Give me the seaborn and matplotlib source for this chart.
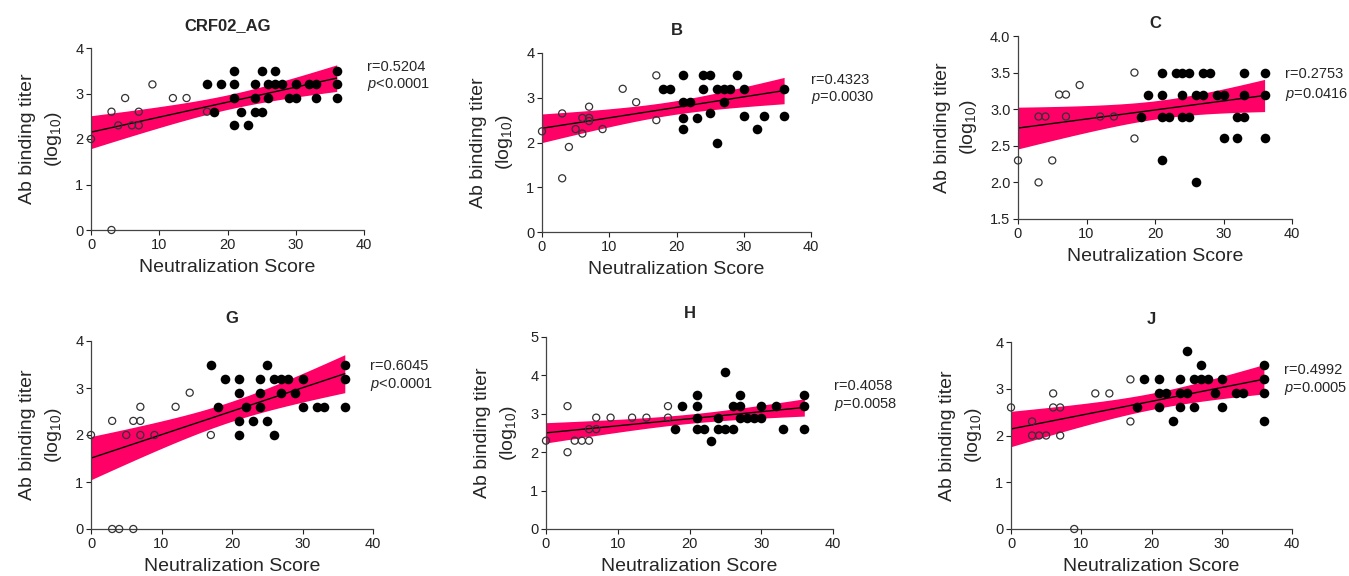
import numpy as np
import pandas as pd
import matplotlib
matplotlib.use("Agg")
import matplotlib.pyplot as plt
import seaborn as sns

# --- data (neutralization score vs log10 binding titer) ---
panel_names = ["CRF02_AG", "B", "C", "G", "H", "J"]
r_labels = ["r=0.5204", "r=0.4323", "r=0.2753", "r=0.6045", "r=0.4058", "r=0.4992"]
p_signs = ["<", "=", "=", "<", "=", "="]
p_values = ["0.0001", "0.0030", "0.0416", "0.0001", "0.0058", "0.0005"]

crf_x_open = [0, 3, 3, 4, 5, 6, 7, 7, 9, 12, 14, 17]
crf_y_open = [2.0, 2.6, 0.0, 2.3, 2.9, 2.3, 2.6, 2.3, 3.2, 2.9, 2.9, 2.6]
crf_x_fill = [17, 18, 19, 21, 21, 21, 21, 22, 23, 24, 24, 24, 25, 25, 26, 26,
              27, 27, 28, 29, 30, 30, 32, 33, 33, 36, 36, 36]
crf_y_fill = [3.2, 2.6, 3.2, 3.5, 3.2, 2.9, 2.3, 2.6, 2.3, 3.2, 2.9, 2.6, 3.5, 2.6, 3.2, 2.9,
              3.5, 3.2, 3.2, 2.9, 3.2, 2.9, 3.2, 3.2, 2.9, 3.5, 3.2, 2.9]

b_x_open = [0, 3, 3, 4, 5, 6, 6, 7, 7, 7, 9, 12, 14, 17, 17]
b_y_open = [2.25, 2.65, 1.2, 1.9, 2.3, 2.55, 2.2, 2.8, 2.55, 2.48, 2.3, 3.2, 2.9, 3.5, 2.5]
b_x_fill = [18, 19, 21, 21, 21, 21, 22, 23, 24, 24, 25, 25, 26, 26, 27, 27,
            28, 29, 30, 30, 32, 33, 36, 36]
b_y_fill = [3.2, 3.2, 3.5, 2.9, 2.55, 2.3, 2.9, 2.55, 3.5, 3.2, 3.5, 2.65, 3.2, 2.0, 3.2, 2.9,
            3.2, 3.5, 3.2, 2.6, 2.3, 2.6, 3.2, 2.6]

c_x_open = [0, 3, 3, 4, 5, 6, 7, 7, 9, 12, 14, 17, 17]
c_y_open = [2.3, 2.9, 2.0, 2.9, 2.3, 3.2, 3.2, 2.9, 3.33, 2.9, 2.9, 3.5, 2.6]
c_x_fill = [18, 19, 21, 21, 21, 21, 22, 23, 24, 24, 24, 25, 25, 26, 26, 27, 27,
            28, 29, 30, 30, 32, 32, 33, 33, 33, 36, 36, 36]
c_y_fill = [2.9, 3.2, 3.5, 3.2, 2.9, 2.3, 2.9, 3.5, 3.5, 3.2, 2.9, 3.5, 2.9, 3.2, 2.0, 3.5, 3.2,
            3.5, 3.2, 3.2, 2.6, 2.9, 2.6, 3.5, 3.2, 2.9, 3.5, 3.2, 2.6]

g_x_open = [0, 3, 3, 4, 5, 6, 6, 7, 7, 7, 9, 12, 14, 17]
g_y_open = [2.0, 2.3, 0.0, 0.0, 2.0, 2.3, 0.0, 2.6, 2.3, 2.0, 2.0, 2.6, 2.9, 2.0]
g_x_fill = [17, 18, 19, 21, 21, 21, 21, 22, 23, 24, 24, 24, 25, 25, 26, 26,
            27, 27, 28, 29, 30, 30, 32, 33, 36, 36, 36]
g_y_fill = [3.5, 2.6, 3.2, 3.2, 2.9, 2.3, 2.0, 2.6, 2.3, 3.2, 2.9, 2.6, 3.5, 2.3, 3.2, 2.0,
            3.2, 2.9, 3.2, 2.9, 3.2, 2.6, 2.6, 2.6, 3.5, 3.2, 2.6]

h_x_open = [0, 3, 3, 4, 5, 6, 6, 7, 7, 9, 12, 14, 17, 17]
h_y_open = [2.3, 3.2, 2.0, 2.3, 2.3, 2.3, 2.6, 2.9, 2.6, 2.9, 2.9, 2.9, 3.2, 2.9]
h_x_fill = [18, 19, 21, 21, 21, 21, 22, 23, 24, 24, 25, 25, 26, 26, 27, 27, 27,
            28, 29, 30, 30, 32, 33, 36, 36, 36]
h_y_fill = [2.6, 3.2, 3.5, 3.2, 2.9, 2.6, 2.6, 2.3, 2.9, 2.6, 4.1, 2.6, 3.2, 2.6, 3.5, 3.2, 2.9,
            2.9, 2.9, 3.2, 2.9, 3.2, 2.6, 3.5, 3.2, 2.6]

j_x_open = [0, 3, 3, 4, 5, 6, 6, 7, 7, 9, 12, 14, 17, 17]
j_y_open = [2.6, 2.3, 2.0, 2.0, 2.0, 2.9, 2.6, 2.6, 2.0, 0.0, 2.9, 2.9, 3.2, 2.3]
j_x_fill = [18, 19, 21, 21, 21, 22, 23, 24, 24, 24, 25, 25, 26, 26, 27, 27,
            28, 29, 30, 30, 32, 33, 36, 36, 36, 36]
j_y_fill = [2.6, 3.2, 3.2, 2.9, 2.6, 2.9, 2.3, 3.2, 2.9, 2.6, 3.8, 2.9, 3.2, 2.6, 3.5, 3.2,
            3.2, 2.9, 3.2, 2.6, 2.9, 2.9, 3.5, 3.2, 2.9, 2.3]

open_sets = [(crf_x_open, crf_y_open), (b_x_open, b_y_open), (c_x_open, c_y_open),
             (g_x_open, g_y_open), (h_x_open, h_y_open), (j_x_open, j_y_open)]
fill_sets = [(crf_x_fill, crf_y_fill), (b_x_fill, b_y_fill), (c_x_fill, c_y_fill),
             (g_x_fill, g_y_fill), (h_x_fill, h_y_fill), (j_x_fill, j_y_fill)]

y_ticks = [[0, 1, 2, 3, 4], [0, 1, 2, 3, 4], [1.5, 2.0, 2.5, 3.0, 3.5, 4.0],
           [0, 1, 2, 3, 4], [0, 1, 2, 3, 4, 5], [0, 1, 2, 3, 4]]
x_ticks = [0, 10, 20, 30, 40]

# --- layout (pixel boxes: left, top, right, bottom) ---
W, H = 1349, 576
boxes = [(91, 48, 364, 230), (542, 53, 811, 232), (1018, 36, 1292, 219),
         (91, 341, 373, 529), (546, 337, 833, 529), (1011, 342, 1292, 529)]
title_pads = [13, 13, 6, 13, 14, 13]
text_y = [(0.896, 0.797), (0.85, 0.75), (0.79, 0.68),
          (0.867, 0.771), (0.745, 0.646), (0.85, 0.75)]
text_x = [1.01, 1.0, 0.975, 0.99, 1.005, 0.97]

PINK = "#FF0066"


def ci_band(x, y, grid):
    # analytic 95% confidence band of the linear fit (as in GraphPad)
    x = np.asarray(x, float)
    y = np.asarray(y, float)
    n = len(x)
    b, a = np.polyfit(x, y, 1)
    resid = y - (a + b * x)
    s = np.sqrt(np.sum(resid ** 2) / (n - 2))
    sxx = np.sum((x - x.mean()) ** 2)
    nu = n - 2
    z = 1.959964
    t = z + (z ** 3 + z) / (4 * nu) + (5 * z ** 5 + 16 * z ** 3 + 3 * z) / (96 * nu ** 2)
    se = s * np.sqrt(1 / n + (grid - x.mean()) ** 2 / sxx)
    fit = a + b * grid
    return fit - t * se, fit + t * se


sns.set_style("ticks")
plt.rcParams["font.family"] = ["Liberation Sans", "DejaVu Sans"]
plt.rcParams["mathtext.fontset"] = "custom"
plt.rcParams["mathtext.rm"] = "Liberation Sans"
plt.rcParams["mathtext.it"] = "Liberation Sans:italic"

fig = plt.figure(figsize=(W / 100, H / 100), dpi=100)

for i, name in enumerate(panel_names):
    l, t, r, b = boxes[i]
    ax = fig.add_axes([l / W, (H - b) / H, (r - l) / W, (b - t) / H])

    xo, yo = open_sets[i]
    xf, yf = fill_sets[i]
    df = pd.DataFrame({"score": list(xo) + list(xf), "titer": list(yo) + list(yf)})

    grid = np.linspace(df.score.min(), df.score.max(), 100)
    lo, hi = ci_band(df.score, df.titer, grid)
    ax.fill_between(grid, lo, hi, color=PINK, linewidth=0, zorder=1)

    sns.regplot(data=df, x="score", y="titer", ax=ax, scatter=False, ci=None,
                truncate=True, color="black", line_kws={"linewidth": 1.0, "zorder": 2})

    sns.scatterplot(x=xo, y=yo, ax=ax, marker="o", s=26, facecolor="none",
                    edgecolor="#333333", linewidth=0.9, zorder=3, clip_on=False)
    sns.scatterplot(x=xf, y=yf, ax=ax, marker="o", s=48, color="black",
                    edgecolor="black", linewidth=0, zorder=3, clip_on=False)

    ax.set_xlim(0, 40)
    ax.set_ylim(y_ticks[i][0], y_ticks[i][-1])
    ax.set_xticks(x_ticks)
    ax.set_yticks(y_ticks[i])
    if i == 2:
        ax.set_yticklabels([f"{v:.1f}" for v in y_ticks[i]])
    ax.tick_params(labelsize=10.5, length=3.5, width=0.8, colors="#222222", pad=2)
    for s in ["left", "bottom"]:
        ax.spines[s].set_linewidth(0.9)
        ax.spines[s].set_color("#444444")
    sns.despine(ax=ax)

    ax.set_xlabel("Neutralization Score", fontsize=14, labelpad=5)
    ax.set_ylabel("Ab binding titer\n(log$_{10}$)", fontsize=14, linespacing=1.45,
                  labelpad=8)
    ax.set_title(name, fontsize=12, fontweight="bold", pad=title_pads[i])

    ax.text(text_x[i], text_y[i][0], r_labels[i], transform=ax.transAxes,
            fontsize=10.5, va="center", ha="left")
    ax.text(text_x[i], text_y[i][1], "$\\it{p}$" + p_signs[i] + p_values[i],
            transform=ax.transAxes, fontsize=10.5, va="center", ha="left")

fig.savefig("out.png", dpi=100)
